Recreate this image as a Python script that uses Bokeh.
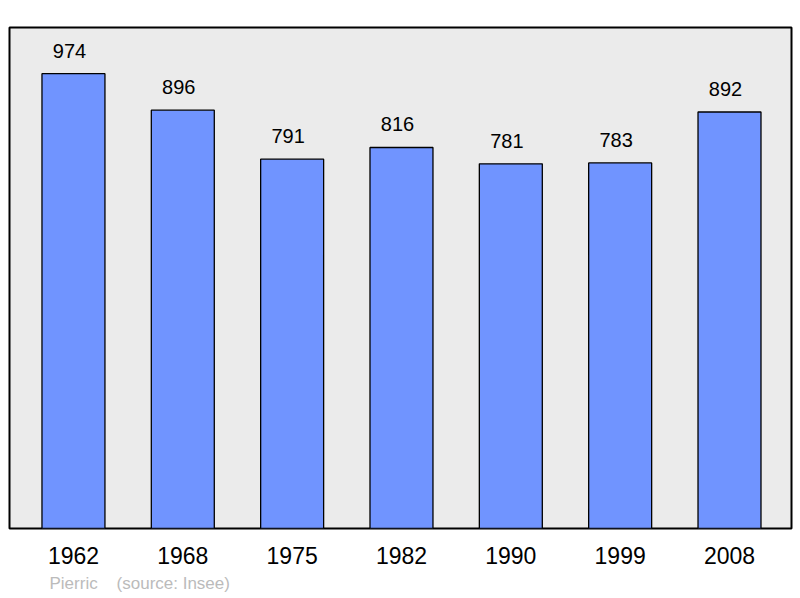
from bokeh.plotting import figure
from bokeh.models import FixedTicker, Title, Range1d
from bokeh.embed import file_html
from bokeh.resources import INLINE
from bokeh.core.properties import value

years = ["1962", "1968", "1975", "1982", "1990", "1999", "2008"]
population = [974, 896, 791, 816, 781, 783, 892]
xs = list(range(len(years)))

p = figure(width=800, height=598, output_backend="svg", toolbar_location=None,
           x_range=Range1d(-0.585, 6.567), y_range=Range1d(0, 1073),
           y_axis_location=None, min_border_left=9, min_border_right=9,
           min_border_top=27, min_border_bottom=70)
p.background_fill_color = "#ebebeb"
p.border_fill_color = "white"
p.outline_line_color = "black"
p.outline_line_width = 2
p.grid.visible = False

p.vbar(x=xs, top=population, width=0.576, bottom=0,
       fill_color="#7094ff", line_color="black", line_width=1.3)

p.text(x=xs, y=population, text=[str(v) for v in population],
       text_align="center", text_baseline="alphabetic", y_offset=-23, x_offset=-4,
       text_font=value("Liberation Sans"), text_font_size="20px", text_color="black")

ax = p.xaxis[0]
ax.ticker = FixedTicker(ticks=xs)
ax.major_label_overrides = {i: y for i, y in enumerate(years)}
ax.axis_line_color = None
ax.major_tick_line_color = None
ax.minor_tick_line_color = None
ax.major_tick_out = 0
ax.major_label_standoff = 18
ax.major_label_text_font = "Liberation Sans"
ax.major_label_text_font_size = "23px"
ax.major_label_text_color = "black"

footer = Title(text="Pierric\u00a0\u00a0\u00a0\u00a0(source: Insee)", align="left", offset=40,
               text_font="Liberation Sans", text_font_size="17px",
               text_font_style="normal", text_color="#bbbbbb", standoff=0,
               padding=(0, 0, 5, 0))
p.add_layout(footer, "below")

open("out.html", "w").write(file_html(p, INLINE))
